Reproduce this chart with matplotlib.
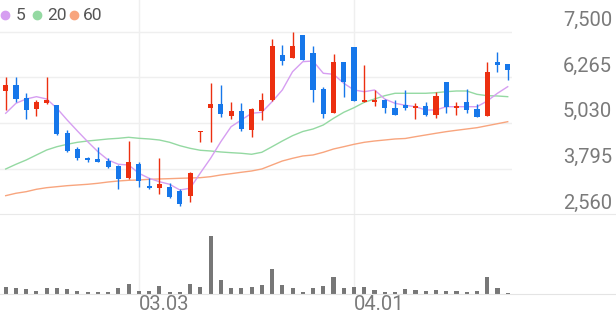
import matplotlib
matplotlib.use('Agg')
import matplotlib.pyplot as plt
from matplotlib.lines import Line2D
from matplotlib import transforms

plt.rcParams['font.family'] = ['Roboto', 'DejaVu Sans']

# daily candles (open / high / low / close), volume in thousand shares
opens = [5904, 6058, 5715, 5409, 5563, 5517, 4768, 4327, 4092, 4057,
         4002, 3859, 3534, 3913, 3334, 3280, 3307, 3199, 3064, 4779,
         5428, 5536, 5228, 5363, 4841, 5355, 5652, 6870, 6780, 7411,
         6916, 5950, 5293, 6672, 7094, 5606, 5606, 5652, 5444, 5517,
         5444, 5490, 5247, 6131, 5428, 5590, 5409, 5220, 6672, 6618]
highs = [6267, 6267, 5834, 5652, 6283, 5530, 4841, 4373, 4119, 4373,
         4075, 3894, 4544, 3984, 3534, 4075, 3399, 3245, 3713, 4814,
         6104, 6058, 5590, 5563, 5428, 5834, 7302, 7140, 7484, 7411,
         7121, 6012, 6889, 6689, 7094, 6599, 5923, 5679, 5652, 5923,
         5563, 5590, 5877, 6131, 5590, 5950, 5536, 6689, 6959, 6618]
lows = [5382, 5590, 5130, 5220, 5536, 4706, 4246, 4029, 3984, 3967,
        3805, 3245, 3516, 3307, 3237, 3101, 2994, 2793, 2902, 4525,
        4525, 5201, 5138, 4814, 4660, 5111, 5625, 6599, 6780, 6734,
        5606, 5157, 5293, 5742, 5625, 5590, 5498, 5293, 5240, 5382,
        5138, 5228, 5174, 5293, 5247, 5293, 5201, 5220, 6418, 6194]
closes = [6058, 5679, 5382, 5606, 5652, 4733, 4273, 4075, 4021, 3984,
          3848, 3516, 3984, 3461, 3280, 3372, 3037, 2831, 3686, 4814,
          5536, 5266, 5355, 4868, 5409, 5652, 7121, 6707, 7121, 6734,
          5923, 5266, 6672, 6131, 5625, 5652, 5652, 5428, 5247, 5444,
          5498, 5247, 5769, 5471, 5498, 5382, 5201, 6402, 6599, 6464]
volumes = [210, 190, 140, 80, 170, 190, 150, 80, 50, 50,
           50, 170, 310, 90, 90, 230, 70, 70, 300, 220,
           1750, 410, 180, 180, 210, 260, 750, 260, 180, 70,
           180, 250, 500, 170, 210, 200, 110, 70, 50, 160,
           120, 90, 120, 100, 90, 60, 90, 500, 170, 20]

ma5 = [5293, 5563, 5679, 5742, 5679, 5428, 5111, 4814, 4525, 4254,
       4029, 3913, 3894, 3670, 3534, 3442, 3372, 3218, 3264, 3678,
       4075, 4525, 4930, 5111, 5293, 5320, 5606, 5923, 6418, 6689,
       6707, 6375, 6348, 6104, 5923, 5877, 5923, 5679, 5563, 5510,
       5471, 5382, 5382, 5471, 5471, 5471, 5471, 5625, 5834, 6012]
ma20 = [3786, 3913, 4029, 4165, 4300, 4389, 4454, 4508, 4543, 4570,
        4598, 4616, 4643, 4616, 4598, 4570, 4508, 4416, 4345, 4292,
        4273, 4246, 4227, 4211, 4184, 4238, 4389, 4543, 4687, 4800,
        4868, 4976, 5157, 5320, 5444, 5590, 5679, 5769, 5834, 5834,
        5834, 5834, 5850, 5877, 5896, 5896, 5806, 5769, 5761, 5742]
ma60 = [3064, 3129, 3172, 3237, 3280, 3307, 3334, 3353, 3372, 3399,
        3434, 3461, 3480, 3488, 3507, 3516, 3524, 3534, 3542, 3551,
        3578, 3624, 3659, 3697, 3732, 3786, 3894, 4002, 4075, 4138,
        4165, 4238, 4327, 4389, 4454, 4508, 4543, 4570, 4598, 4611,
        4660, 4706, 4752, 4796, 4833, 4868, 4903, 4957, 5011, 5065]

price_ticks = [7500, 6265, 5030, 3795, 2560]
date_pos = [13, 34]
date_labels = ['03.03', '04.01']
ma_names = ['5', '20', '60']

RED = '#ec2f10'
BLUE = '#1677ea'
GRID = '#efefef'
TXT = '#7a7a7a'
ma_colors = ['#d69ef1', '#94d9a2', '#f8a57e']

W, H = 616, 321
fig = plt.figure(figsize=(W / 100, H / 100), dpi=100)

# price panel (pixels: x 0..512, y 0..214.3)
ax = fig.add_axes([0, 1 - 214.3 / H, 512 / W, 214.3 / H])
# volume panel spans full width (y 214.3..294)
axv = fig.add_axes([0, 1 - 294 / H, 1, 79.7 / H])

step = 10.245
x0 = -5.7 / step
idx = list(range(len(opens)))

for i in idx:
    o, c = opens[i], closes[i]
    col = RED if c >= o else BLUE
    ax.vlines(i, lows[i], highs[i], color=col, lw=1.0, zorder=3)
    bot = min(o, c)
    h = max(abs(c - o), 45)
    ax.bar(i, h, bottom=bot, width=0.5, color=col, lw=0, zorder=4)

for vals, col in zip([ma60, ma20, ma5], ma_colors[::-1]):
    ax.plot(idx, vals, color=col, lw=1.0, zorder=2)

ax.set_xlim(x0, (512 - 5.7) / step)
ax.set_ylim(2560, 8357.5)
ax.set_yticks(price_ticks[:-1])
ax.set_xticks(date_pos)
ax.tick_params(length=0, labelleft=False, labelbottom=False)
ax.grid(True, color=GRID, lw=1.0)
for s in ax.spines.values():
    s.set_visible(False)
ax.patch.set_alpha(0)

# price labels on the right
tr = transforms.blended_transform_factory(fig.transFigure, ax.transData)
tr = transforms.offset_copy(tr, fig=fig, x=0, y=5.7, units='dots')
for p in price_ticks:
    ax.text(612 / W, p, f'{p:,}', transform=tr, ha='right', va='baseline',
            fontsize=14.5, color=TXT, clip_on=False)

# volume
axv.bar(idx, volumes, width=0.4, color='#777777', lw=0)
axv.set_xlim(x0, (W - 5.7) / step)
axv.set_ylim(0, max(volumes) * 79.7 / 58.3)
axv.set_yticks([])
axv.set_xticks(date_pos)
axv.set_xticklabels(date_labels, fontsize=14.5, color=TXT)
shift = transforms.ScaledTranslation(3 / 100, -2 / 100, fig.dpi_scale_trans)
for lab in axv.get_xticklabels():
    lab.set_ha('left')
    lab.set_transform(lab.get_transform() + shift)
axv.tick_params(axis='x', length=0, pad=1)
axv.grid(True, axis='x', color=GRID, lw=1.0)
axv.set_axisbelow(True)
for s in ['left', 'right']:
    axv.spines[s].set_visible(False)
axv.spines['top'].set_color('#e9e9e9')
axv.spines['bottom'].set_color('#e4e4e4')
axv.patch.set_alpha(0)

# legend in the top-left corner
legend_dots = [5, 37, 74]
legend_text = [16, 47, 83]
for xd, xt, name, col in zip(legend_dots, legend_text, ma_names, ma_colors):
    fig.add_artist(Line2D([xd / W], [1 - 15 / H], marker='o', ms=6, color=col,
                          lw=0, transform=fig.transFigure))
    fig.text(xt / W, 1 - 15 / H, name, fontsize=12.5, color='#555555', va='center', ha='left')

fig.savefig('out.png', dpi=100)
